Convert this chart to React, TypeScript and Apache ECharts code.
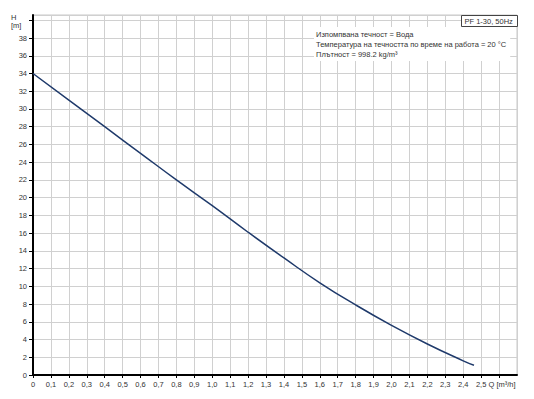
import React, { useEffect, useRef } from "react";
import * as echarts from "echarts";

const flowQ = [0, 0.2, 0.4, 0.6, 0.8, 1.0, 1.2, 1.4, 1.6, 1.8, 2.0, 2.2, 2.4, 2.46];
const headH = [34, 31.0, 28.0, 25.0, 22.0, 19.1, 16.1, 13.2, 10.4, 7.9, 5.6, 3.5, 1.6, 1.1];

const xMax = 2.7;
const yMax = 40.6;
const titleText = "PF 1-30, 50Hz";
const infoLines = [
  "Изпомпвана течност = Вода",
  "Температура на течността по време на работа = 20 °C",
  "Плътност = 998.2 kg/m³",
];
const xUnitLabel = "Q [m³/h]";
const yUnitLabel = "H\n[m]";

export default function App() {
  const ref = useRef<HTMLDivElement>(null);
  useEffect(() => {
    if (!ref.current) return;
    const chart = echarts.init(ref.current, null, { renderer: "svg" });
    const font = "Liberation Sans, Arial, sans-serif";
    chart.setOption({
      animation: false,
      backgroundColor: "#ffffff",
      grid: {
        left: 33,
        right: 17,
        top: 15,
        bottom: 24,
        show: true,
        borderColor: "#c8c8c8",
        borderWidth: 1,
      },
      xAxis: {
        type: "value",
        min: 0,
        max: xMax,
        interval: 0.1,
        axisLine: { show: true, lineStyle: { color: "#000", width: 2 } },
        axisTick: { show: true, length: 3, lineStyle: { color: "#000" } },
        splitLine: { show: true, lineStyle: { color: "#d0d0d0", width: 1 } },
        axisLabel: {
          fontSize: 7.5,
          fontFamily: font,
          color: "#333",
          margin: 5,
          showMaxLabel: false,
          rich: { q: { fontSize: 7.5, fontFamily: font, color: "#333", padding: [0, 0, 0, 6] } },
          formatter: (v: number) => {
            const k = Math.round(v * 10);
            if (k === 0) return "0";
            if (k === 26) return "{q|" + xUnitLabel + "}";
            if (k > 26) return "";
            return (k / 10).toFixed(1).replace(".", ",");
          },
        },
      },
      yAxis: {
        type: "value",
        min: 0,
        max: yMax,
        interval: 2,
        axisLine: { show: true, lineStyle: { color: "#000", width: 2 } },
        axisTick: { show: true, length: 4, lineStyle: { color: "#000" } },
        splitLine: { show: true, lineStyle: { color: "#d0d0d0", width: 1 } },
        axisLabel: {
          fontSize: 7.5,
          fontFamily: font,
          color: "#333",
          margin: 6,
          showMaxLabel: false,
          formatter: (v: number) => (Math.round(v) >= 40 ? "" : String(Math.round(v))),
        },
      },
      graphic: [
        {
          type: "text",
          left: 11,
          top: 13,
          z: 100,
          style: {
            text: yUnitLabel,
            font: `7.5px ${font}`,
            fill: "#333",
            align: "center",
            lineHeight: 8,
          },
        },
        {
          type: "group",
          right: 16,
          top: 15,
          z: 100,
          children: [
            {
              type: "rect",
              z: 100,
              shape: { x: 0, y: 0, width: 56, height: 11 },
              style: { fill: "#fff", stroke: "#444", lineWidth: 1 },
            },
            {
              type: "text",
              z: 101,
              x: 3,
              y: 2,
              style: { text: titleText, font: `7.5px ${font}`, fill: "#333" },
            },
          ],
        },
        {
          type: "text",
          left: 314,
          top: 27,
          z: 100,
          style: {
            text: infoLines.join("\n"),
            font: `7.5px ${font}`,
            fill: "#333",
            lineHeight: 10,
            backgroundColor: "#fff",
            padding: [2, 4, 2, 2],
          },
        },
      ],
      series: [
        {
          type: "line",
          data: flowQ.map((q, i) => [q, headH[i]]),
          smooth: true,
          showSymbol: false,
          lineStyle: { color: "#1f3a6b", width: 1.5 },
        },
      ],
    });
    return () => chart.dispose();
  }, []);
  return <div ref={ref} style={{ width: 534, height: 399, position: "absolute", left: 0, top: 0 }} />;
}
